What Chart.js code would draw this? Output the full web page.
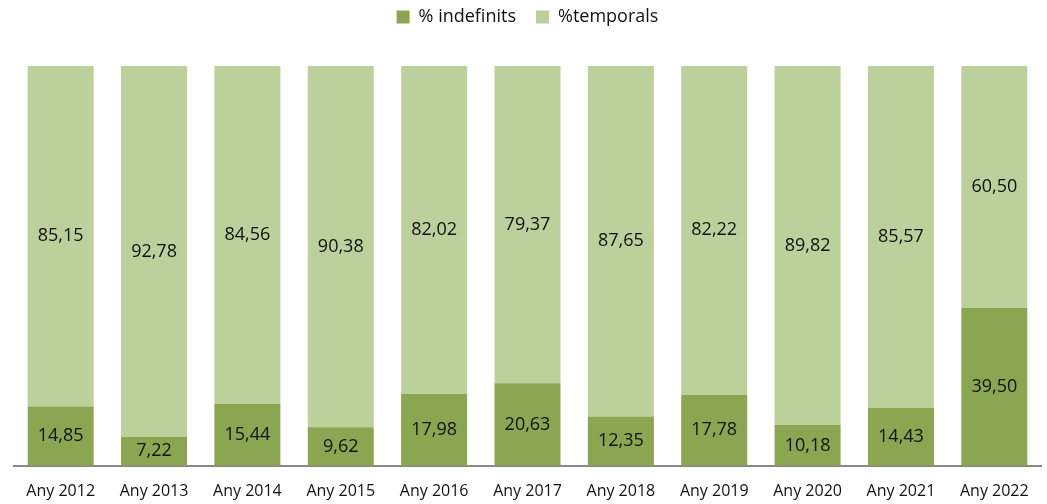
<!DOCTYPE html>
<html>
<head>
<meta charset="utf-8">
<script src="https://cdn.jsdelivr.net/npm/chart.js@4/dist/chart.umd.min.js"></script>
<style>
  html, body { margin: 0; padding: 0; background: #fff; }
  #wrap { width: 1047px; height: 504px; position: relative; }
</style>
</head>
<body>
<div id="wrap"><canvas id="chart"></canvas></div>
<script>
const categories = ['Any 2012', 'Any 2013', 'Any 2014', 'Any 2015', 'Any 2016', 'Any 2017', 'Any 2018', 'Any 2019', 'Any 2020', 'Any 2021', 'Any 2022'];
const indefinits = [14.85, 7.22, 15.44, 9.62, 17.98, 20.63, 12.35, 17.78, 10.18, 14.43, 39.50];
const temporals = [85.15, 92.78, 84.56, 90.38, 82.02, 79.37, 87.65, 82.22, 89.82, 85.57, 60.50];

const FONT = '"Open Sans", "Noto Sans", sans-serif';

// draw values in the middle of each segment
const barLabels = {
  id: 'barLabels',
  afterDatasetsDraw(chart) {
    const ctx = chart.ctx;
    ctx.save();
    ctx.fillStyle = '#111';
    ctx.font = '18px ' + FONT;
    ctx.textAlign = 'center';
    ctx.textBaseline = 'middle';
    chart.data.datasets.forEach((ds, i) => {
      chart.getDatasetMeta(i).data.forEach((bar, j) => {
        const y = (bar.y + bar.base) / 2;
        ctx.fillText(ds.data[j].toFixed(2).replace('.', ','), bar.x, y);
      });
    });
    ctx.restore();
  }
};

// extra space under the legend
const legendGap = {
  id: 'legendGap',
  beforeInit(chart) {
    const fit = chart.legend.fit;
    chart.legend.fit = function () {
      fit.bind(this)();
      this.height += 30;
    };
  }
};

new Chart(document.getElementById('chart'), {
  type: 'bar',
  data: {
    labels: categories,
    datasets: [
      { label: '% indefinits', data: indefinits, backgroundColor: '#8AA650' },
      { label: '%temporals', data: temporals, backgroundColor: '#BBD09A' }
    ]
  },
  options: {
    responsive: true,
    maintainAspectRatio: false,
    animation: false,
    layout: { padding: { left: 14, right: 6, top: -12, bottom: -13 } },
    datasets: { bar: { categoryPercentage: 0.707, barPercentage: 1 } },
    scales: {
      x: {
        stacked: true,
        grid: { display: false, drawTicks: false },
        border: { color: '#888', width: 2 },
        ticks: { color: '#111', font: { family: FONT, size: 16 }, padding: 16 }
      },
      y: {
        stacked: true,
        display: false,
        min: 0,
        max: 100
      }
    },
    plugins: {
      legend: {
        position: 'top',
        labels: {
          color: '#111',
          font: { family: FONT, size: 18 },
          boxWidth: 13,
          boxHeight: 13,
          padding: 20
        }
      },
      tooltip: { enabled: false }
    }
  },
  plugins: [barLabels, legendGap]
});
</script>
</body>
</html>
